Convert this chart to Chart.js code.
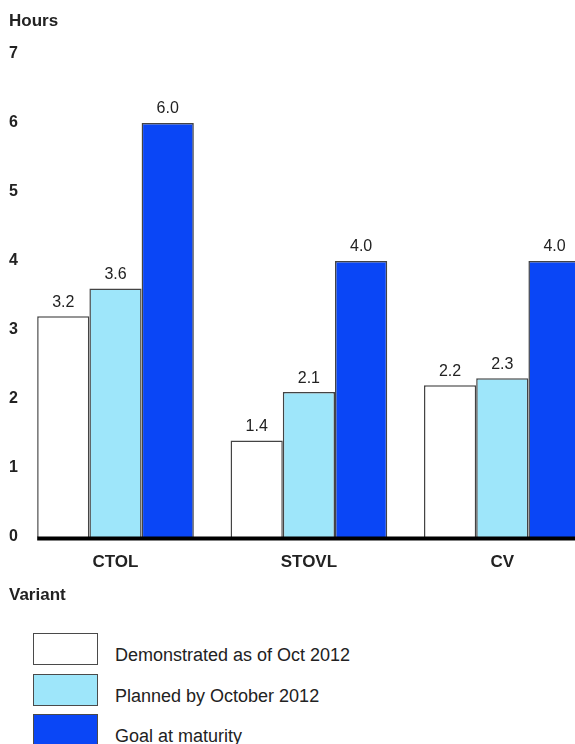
<!DOCTYPE html>
<html>
<head>
<meta charset="utf-8">
<script src="https://cdn.jsdelivr.net/npm/chart.js@4/dist/chart.umd.min.js"></script>
<style>
  body { margin: 0; background: #fff; overflow: hidden; width: 575px; height: 744px; position: relative; }
  #wrap { position: absolute; left: 0; top: 0; width: 599px; height: 620px; }
  #legend { position: absolute; left: 0; top: 0; font: 18px "Liberation Sans", Arial, sans-serif; color: #222; }
  .item { position: absolute; left: 33px; white-space: nowrap; }
  .box { position: absolute; left: 0; top: 0; width: 63px; height: 30px; border: 1.5px solid #4a4a4a; }
  .label { position: absolute; left: 82px; top: 12px; }
</style>
</head>
<body>
<div id="wrap"><canvas id="chart"></canvas></div>
<div id="legend"></div>
<script>
const variants = ["CTOL", "STOVL", "CV"];
const demonstrated = [3.2, 1.4, 2.2];
const planned = [3.6, 2.1, 2.3];
const goal = [6.0, 4.0, 4.0];
const seriesNames = ["Demonstrated as of Oct 2012", "Planned by October 2012", "Goal at maturity"];
const seriesColors = ["#ffffff", "#9ee6fa", "#0a46f6"];
const yMax = 7;

const FONT = '"Liberation Sans", Arial, sans-serif';

// labels above each bar
const valueLabels = {
  id: "valueLabels",
  afterDatasetsDraw(chart) {
    const ctx = chart.ctx;
    ctx.save();
    ctx.font = "16px " + FONT;
    ctx.fillStyle = "#222";
    ctx.textAlign = "center";
    ctx.textBaseline = "middle";
    chart.data.datasets.forEach((ds, i) => {
      chart.getDatasetMeta(i).data.forEach((bar, j) => {
        ctx.fillText(ds.data[j].toFixed(1), bar.x, bar.y - 14);
      });
    });
    ctx.restore();
  }
};

// thick zero line starting at the first bar
const baseLine = {
  id: "baseLine",
  afterDatasetsDraw(chart) {
    const ctx = chart.ctx;
    const first = chart.getDatasetMeta(0).data[0];
    const y = chart.scales.y.getPixelForValue(0) + 1.5;
    ctx.save();
    ctx.strokeStyle = "#000";
    ctx.lineWidth = 4;
    ctx.beginPath();
    ctx.moveTo(first.x - first.width / 2, y);
    ctx.lineTo(chart.width, y);
    ctx.stroke();
    ctx.restore();
  }
};

const data = [demonstrated, planned, goal];

const chart = new Chart(document.getElementById("chart"), {
  type: "bar",
  data: {
    labels: variants,
    datasets: data.map((d, i) => ({
      label: seriesNames[i],
      data: d,
      backgroundColor: seriesColors[i],
      borderColor: "#444",
      borderWidth: 1.5,
      categoryPercentage: 0.81,
      barPercentage: 1.0
    }))
  },
  options: {
    responsive: true,
    maintainAspectRatio: false,
    animation: false,
    layout: { padding: { left: 9, right: 0, top: 0, bottom: 0 } },
    plugins: {
      legend: { display: false },
      tooltip: { enabled: false },
      title: {
        display: true,
        text: "Hours",
        align: "start",
        color: "#222",
        font: { family: FONT, size: 17, weight: "bold" },
        padding: { top: 11, bottom: 22.6 }
      },
      subtitle: {
        display: true,
        text: "Variant",
        position: "bottom",
        align: "start",
        color: "#222",
        font: { family: FONT, size: 17, weight: "bold" },
        padding: { top: 8, bottom: 14 }
      }
    },
    scales: {
      x: {
        grid: { display: false, drawTicks: false },
        border: { display: false },
        ticks: {
          color: "#222",
          padding: 15,
          font: { family: FONT, size: 17, weight: "bold" }
        },
        afterFit(scale) { scale.height = 40.6; }
      },
      y: {
        min: 0,
        max: yMax,
        grid: { display: false, drawTicks: false },
        border: { display: false },
        ticks: {
          stepSize: 1,
          color: "#222",
          padding: 1,
          font: { family: FONT, size: 16, weight: "bold" }
        },
        afterFit(scale) { scale.width = 9.8; }
      }
    }
  },
  plugins: [valueLabels, baseLine]
});

// legend built from the chart datasets
const legend = document.getElementById("legend");
chart.data.datasets.forEach((ds, i) => {
  const item = document.createElement("div");
  item.className = "item";
  item.style.top = (633 + i * 40.5) + "px";
  item.innerHTML = '<div class="box" style="background:' + ds.backgroundColor + '"></div>' +
    '<div class="label">' + ds.label + '</div>';
  legend.appendChild(item);
});
</script>
</body>
</html>
